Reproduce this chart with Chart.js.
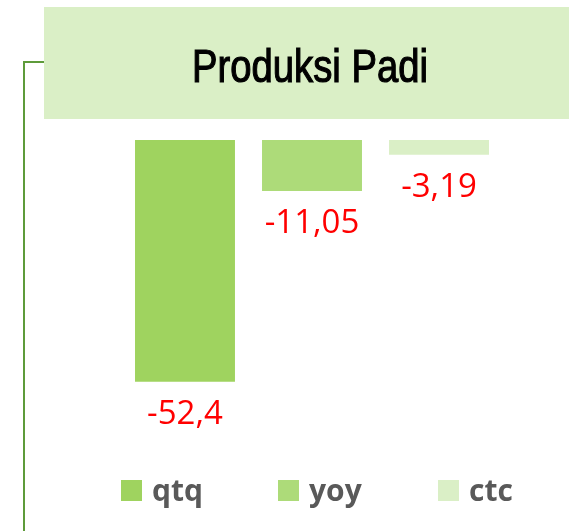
<!DOCTYPE html>
<html>
<head>
<meta charset="utf-8">
<script src="https://cdn.jsdelivr.net/npm/chart.js@4/dist/chart.umd.min.js"></script>
<style>
	html, body { margin: 0; padding: 0; background: #fff; }
	#wrap { width: 569px; height: 531px; position: relative; }
</style>
</head>
<body>
<div id="wrap"><canvas id="myChart"></canvas></div>
<script>
//+++++++++++++++++++++++ Start:data +++++++++++++++++++++++
var chartTitle = 'Produksi Padi';
var categories = ['Produksi Padi'];
var seriesNames = ['qtq', 'yoy', 'ctc'];
var qtqValues = [-52.4];
var yoyValues = [-11.05];
var ctcValues = [-3.19];
var seriesColors = ['#9FD35F', '#ADDB79', '#DAEFC6'];
//-------------------- End:data --------------------

function fmt(v) {
	return String(v).replace('.', ',');
}

// title box, condensed title text and bracket line
var frame = {
	id: 'frame',
	beforeDraw: function (chart) {
		var c = chart.ctx;
		c.save();
		c.fillStyle = '#DAEFC6';
		c.fillRect(44, 7, chart.width - 44, 112);
		c.strokeStyle = '#5E9B3A';
		c.lineWidth = 2;
		c.beginPath();
		c.moveTo(44, 62);
		c.lineTo(24, 62);
		c.lineTo(24, chart.height);
		c.stroke();

		// narrow font is not installed, so squeeze a normal one
		c.font = '47px "Liberation Sans", Arial, sans-serif';
		c.textAlign = 'center';
		c.textBaseline = 'alphabetic';
		var w = c.measureText(chartTitle).width;
		var sx = 236 / w;
		c.translate(310, 82);
		c.scale(sx, 1);
		c.fillStyle = '#000';
		c.strokeStyle = '#000';
		c.lineWidth = 1.2;
		c.fillText(chartTitle, 0, 0);
		c.strokeText(chartTitle, 0, 0);
		c.restore();
	}
};

// red value labels under each bar
var valueLabels = {
	id: 'valueLabels',
	afterDatasetsDraw: function (chart) {
		var c = chart.ctx;
		c.save();
		c.fillStyle = '#FF0000';
		c.font = '33px "Open Sans"';
		c.textAlign = 'center';
		c.textBaseline = 'middle';
		chart.data.datasets.forEach(function (ds, i) {
			chart.getDatasetMeta(i).data.forEach(function (bar, j) {
				c.fillText(fmt(ds.data[j]), bar.x, bar.y + 33);
			});
		});
		c.restore();
	}
};

// legend at the bottom
var legendRow = {
	id: 'legendRow',
	afterDraw: function (chart) {
		var c = chart.ctx;
		var boxX = [121, 278, 438];
		c.save();
		c.font = 'bold 30px "Open Sans"';
		c.textBaseline = 'alphabetic';
		c.textAlign = 'left';
		chart.data.datasets.forEach(function (ds, i) {
			c.fillStyle = ds.backgroundColor;
			c.fillRect(boxX[i], 480, 21, 21);
			c.fillStyle = '#595959';
			c.fillText(ds.label, boxX[i] + 31, 501);
		});
		c.restore();
	}
};

var ctx = document.getElementById('myChart').getContext('2d');
var chart = new Chart(ctx, {
	type: 'bar',
	data: {
		labels: categories,
		datasets: [
			{ label: seriesNames[0], data: qtqValues, backgroundColor: seriesColors[0] },
			{ label: seriesNames[1], data: yoyValues, backgroundColor: seriesColors[1] },
			{ label: seriesNames[2], data: ctcValues, backgroundColor: seriesColors[2] }
		]
	},
	options: {
		responsive: true,
		maintainAspectRatio: false,
		animation: false,
		categoryPercentage: 0.756,
		barPercentage: 0.787,
		layout: {
			padding: { top: 140, bottom: 68, left: 60, right: 5 }
		},
		scales: {
			x: { display: false },
			y: { display: false, min: -70, max: 0 }
		},
		plugins: {
			legend: { display: false },
			tooltip: { enabled: false },
			title: { display: false }
		}
	},
	plugins: [frame, valueLabels, legendRow]
});
</script>
</body>
</html>
